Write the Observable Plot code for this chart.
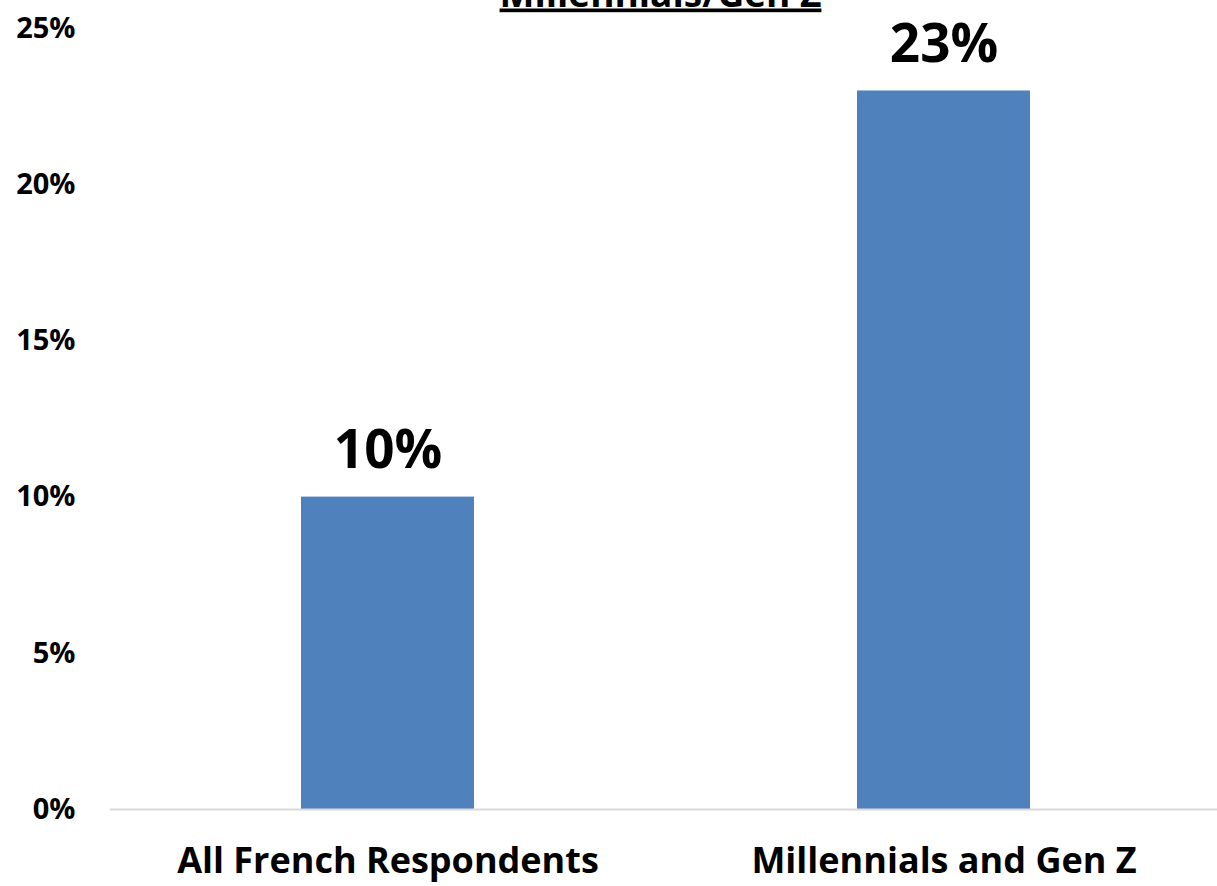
<!DOCTYPE html>
<html>
<head>
<meta charset="utf-8">
<script src="https://cdn.jsdelivr.net/npm/d3@7"></script>
<script src="https://cdn.jsdelivr.net/npm/@observablehq/plot@0.6"></script>
<style>
  html, body { margin: 0; padding: 0; background: #fff; overflow: hidden; }
  #chart svg { display: block; }
</style>
</head>
<body>
<div id="chart"></div>
<script>
const title = "Millennials/Gen Z";
const categories = ["All French Respondents", "Millennials and Gen Z"];
const values = [0.10, 0.23];
const yTicks = [0, 0.05, 0.10, 0.15, 0.20, 0.25];

const data = categories.map((c, i) => ({category: c, value: values[i]}));
const fmt = d3.format(".0%");

const chart = Plot.plot({
  width: 1217,
  height: 886,
  marginTop: 28,
  marginBottom: 77,
  marginLeft: 110,
  marginRight: -5,
  style: {fontFamily: "'Open Sans', sans-serif", background: "#fff", color: "#000", overflow: "visible"},
  x: {domain: categories, paddingInner: 0.688, paddingOuter: 0.344, label: null},
  y: {domain: [0, 0.25], label: null},
  marks: [
    Plot.axisY({ticks: yTicks, tickFormat: fmt, tickSize: 0, tickPadding: 35, fontSize: 29, fontWeight: "bold", label: null}),
    Plot.axisX({tickSize: 0, tickPadding: 38, fontSize: 36, fontWeight: "bold", label: null}),
    Plot.barY(data, {x: "category", y: "value", fill: "#4f81bd"}),
    Plot.ruleY([0], {stroke: "#d9d9d9", strokeWidth: 2}),
    Plot.text(data, {x: "category", y: "value", text: d => fmt(d.value), dy: -29, lineAnchor: "bottom", fontSize: 53, fontWeight: "bold", fill: "#000"}),
    Plot.text([title], {frameAnchor: "top", text: d => d, dy: -22, dx: -6, lineAnchor: "bottom", fontSize: 37, fontWeight: "bold", fill: "#000"})
  ]
});

d3.select(chart).selectAll("text").filter(function() { return this.textContent === title; })
  .style("text-decoration", "underline");

document.getElementById("chart").appendChild(chart);
</script>
</body>
</html>
